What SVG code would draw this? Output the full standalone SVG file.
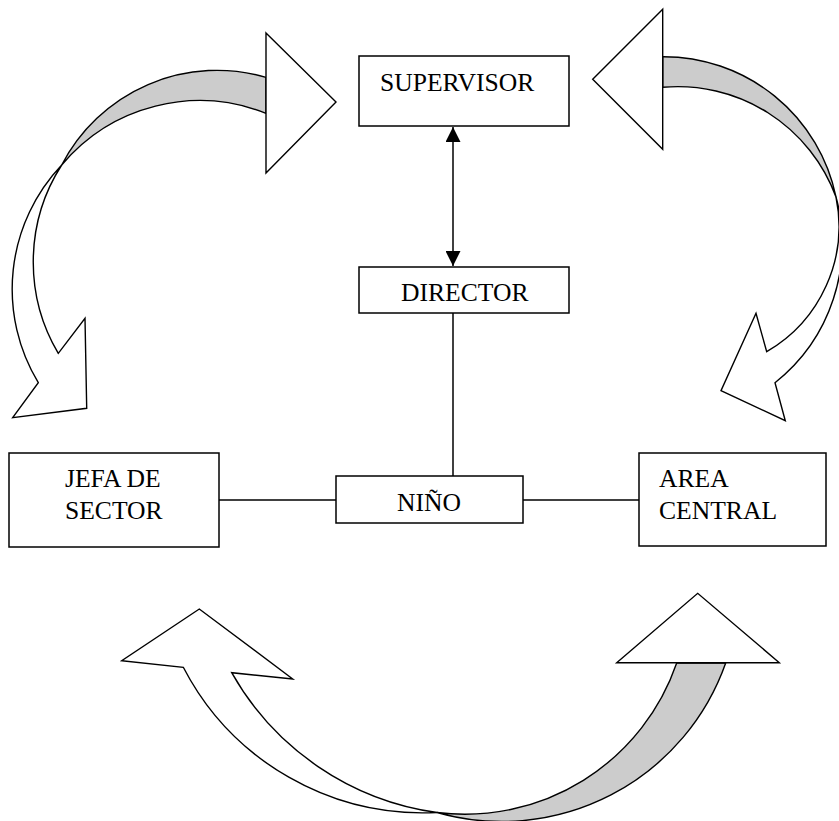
<svg xmlns="http://www.w3.org/2000/svg" width="839" height="821" viewBox="0 0 839 821">
<style>
.box{fill:#fff;stroke:#000;stroke-width:1.5}
.lbl{font-family:"Liberation Serif","Times New Roman",serif;font-size:25.6px;fill:#000}
.con{fill:none;stroke:#000;stroke-width:1.5}
.back{fill:#cccccc;stroke:#000;stroke-width:1.4;stroke-linejoin:round}
.front{fill:#fff;stroke:#000;stroke-width:1.4;stroke-linejoin:miter}
</style>
<defs>
<marker id="head" markerUnits="userSpaceOnUse" markerWidth="15" markerHeight="15" refX="15" refY="7.5" orient="auto-start-reverse">
<path d="M0,0 L15,7.5 L0,15 Z" fill="#000"/>
</marker>
</defs>

<g id="curved-arrows">
<g id="arrow-top-left">
<path class="back" d="M266,77.3 A175 175 0 0 0 61.7,165 A180 180 0 0 1 266,113.3 Z"/>
<path class="front" d="M61.7,165 A180.5 180.5 0 0 0 38.3,382.7 L12.7,417.7 L86.7,408.3 L85,318.3 L58.3,353.3 A179.3 179.3 0 0 1 61.7,165 Z"/>
<polygon class="front" points="266,33 336,102 266,173"/>
</g>
<g id="arrow-top-right">
<path class="back" d="M662.7,56.7 A176 176 0 0 1 836,197 A168.5 168.5 0 0 0 662.7,87.3 Z"/>
<path class="front" d="M836,197 A177.6 177.6 0 0 1 775,382.7 L785.3,420.7 L721,390.7 L756,313.3 L766.7,351.7 A145 145 0 0 0 836,197 Z"/>
<polygon class="front" points="662.7,9.3 592.7,79.3 662.7,149.3"/>
</g>
<g id="arrow-bottom">
<path class="back" d="M437,812.5 A224 224 0 0 0 676.7,663 L725.7,663 A237.3 237.3 0 0 1 437,812.5 Z"/>
<path class="front" d="M437,812.5 A270 270 0 0 1 183.3,667.3 L121.7,660.7 L199.3,609 L292.7,679 L231.7,672.7 A280.4 280.4 0 0 0 437,812.5 Z"/>
<polygon class="front" points="616.7,662.7 697.7,593.3 779.3,662.7"/>
</g>
</g>

<g id="connectors">
<line class="con" x1="453" y1="127" x2="453" y2="266" marker-start="url(#head)" marker-end="url(#head)"/>
<line class="con" x1="453" y1="313" x2="453" y2="476"/>
<line class="con" x1="219" y1="500" x2="336" y2="500"/>
<line class="con" x1="523" y1="500" x2="639" y2="500"/>
</g>

<g id="supervisor">
<rect class="box" x="359" y="56" width="210" height="70"/>
<text class="lbl" x="380" y="91">SUPERVISOR</text>
</g>
<g id="director">
<rect class="box" x="359" y="267" width="210" height="46"/>
<text class="lbl" x="401" y="301">DIRECTOR</text>
</g>
<g id="jefa-de-sector">
<rect class="box" x="9" y="453" width="210" height="94"/>
<text class="lbl" x="65" y="487">JEFA DE</text>
<text class="lbl" x="65" y="518.5">SECTOR</text>
</g>
<g id="nino">
<rect class="box" x="336" y="476" width="187" height="47"/>
<text class="lbl" x="397" y="511">NIÑO</text>
</g>
<g id="area-central">
<rect class="box" x="639" y="453" width="187" height="93"/>
<text class="lbl" x="659" y="487">AREA</text>
<text class="lbl" x="659" y="518.5">CENTRAL</text>
</g>
</svg>
